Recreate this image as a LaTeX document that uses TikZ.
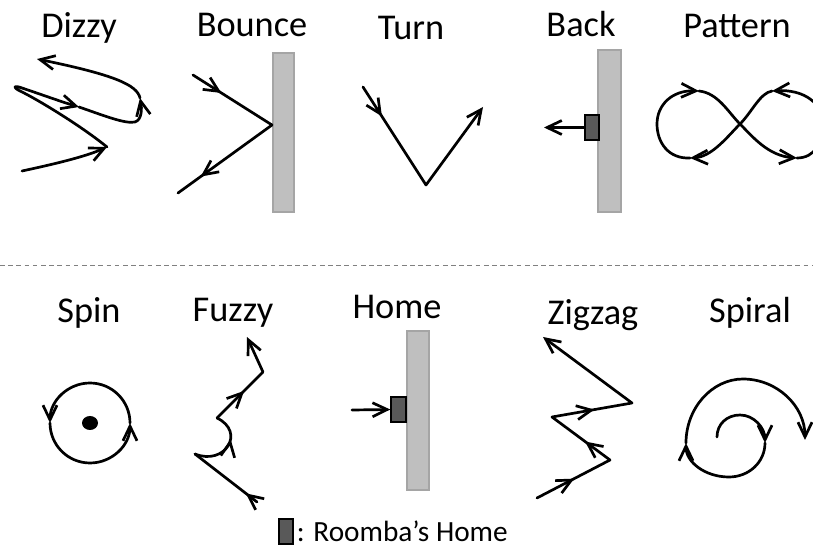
\documentclass[tikz,border=0pt]{standalone}
\usepackage{fontspec}
\setmainfont{Carlito}
\usetikzlibrary{positioning,arrows.meta,decorations.markings}
\definecolor{wallgray}{RGB}{191,191,191}
\definecolor{walledge}{RGB}{165,165,165}
\definecolor{homegray}{RGB}{89,89,89}
\tikzset{
  title/.style={anchor=base, font=\fontsize{31}{36}\selectfont},
  legend/.style={font=\fontsize{25}{30}\selectfont, inner sep=0pt},
  move/.style={line width=2.3pt, line cap=round, line join=round},
  wall/.style={fill=wallgray, draw=walledge, line width=1.2pt},
  homebox/.style={draw=black, fill=homegray, line width=1.5pt, minimum width=4.4mm,
                  minimum height=7.4mm, inner sep=0pt},
  mid/.style={postaction={decorate, decoration={markings,
              mark=at position #1 with {\arrow{>}}}}},
  divider/.style={gray, line width=0.8pt, dash pattern=on 4pt off 3pt}
}

\begin{document}
\begin{tikzpicture}[x=0.3mm, y=-0.3mm, >={Straight Barb[length=4.4mm,width=4.2mm]}]
    \path[fill=white] (0,0) rectangle (813,549);
    \useasboundingbox (0,0) rectangle (813,549);

    % top row
    \node[title] (dizzy) at (79,38) {Dizzy};
    \node[title] (bounce) at (252,37) {Bounce};
    \node[title] (turn) at (411,40) {Turn};
    \node[title] (back) at (581,37) {Back};
    \node[title] (pattern) at (737,38) {Pattern};

    % dizzy
    \coordinate (d0) at (22,171);
    \coordinate (d1) at (107,147);
    \coordinate (d2) at (79,107);
    \coordinate (d3) at (140,98);
    \coordinate (d4) at (37,59);
    \draw[move, ->] (d0) .. controls (50,165) and (85,157) .. (d1);
    \draw[move, ->] (d1) .. controls (80,125) and (35,98) .. (20,91)
        .. controls (12,87) and (14,85) .. (22,88)
        .. controls (40,94) and (62,102) .. (d2);
    \draw[move, ->] (d2) .. controls (105,116) and (125,124) .. (135,122)
        .. controls (142,120) and (142,108) .. (d3);
    \draw[move, ->] (d3) .. controls (137,85) and (115,75) .. (d4);

    % bounce
    \draw[wall] (273,53) rectangle (294,212);
    \coordinate (b0) at (193,75);
    \coordinate (b1) at (272,125);
    \coordinate (b2) at (178,193);
    \draw[move, mid=0.36] (b0) -- (b1);
    \draw[move, mid=0.76] (b1) -- (b2);

    % turn
    \coordinate (t0) at (363,87);
    \coordinate (t1) at (426,185);
    \coordinate (t2) at (483,107);
    \draw[move, mid=0.3] (t0) -- (t1);
    \draw[move, ->] (t1) -- (t2);

    % back
    \draw[wall] (598,50) rectangle (621,212);
    \node[homebox] (backhome) at (592,127.5) {};
    \coordinate (backend) at (544,127.5);
    \draw[move, ->] (backhome.west) -- (backend);

    % pattern
    \coordinate (pc) at (740,124);
    \coordinate (p1) at (699,91);
    \coordinate (p2) at (797,158);
    \coordinate (p3) at (772,91);
    \coordinate (p4) at (690,158);
    \draw[move, ->] (p1) .. controls (718,93) and (728,112) .. (pc)
        .. controls (752,136) and (768,156) .. (p2);
    \draw[move, ->] (p2) .. controls (815,158) and (823,142) .. (823,124)
        .. controls (823,104) and (805,89) .. (p3);
    \draw[move, ->] (p3) .. controls (760,93) and (752,112) .. (pc)
        .. controls (728,136) and (712,157) .. (p4);
    \draw[move, ->] (p4) .. controls (668,159) and (657,142) .. (657,124)
        .. controls (657,105) and (672,90) .. (p1);

    \coordinate (sepl) at (0,265);
    \coordinate (sepr) at (813,265);
    \draw[divider] (sepl) -- (sepr);

    % bottom row
    \node[title] (spin) at (89,323) {Spin};
    \node[title] (fuzzy) at (233,322) {Fuzzy};
    \node[title] (home) at (397,319) {Home};
    \node[title] (zigzag) at (593,325) {Zigzag};
    \node[title] (spiral) at (750,323) {Spiral};

    % spin
    \coordinate (spinc) at (90,423);
    \coordinate (spine) at (130,423);
    \coordinate (spinw) at (50,423);
    \draw[move, ->] (spine) arc[start angle=0, end angle=-180, radius=40];
    \draw[move, ->] (spinw) arc[start angle=180, end angle=0, radius=40];
    \fill (spinc) ellipse[x radius=8, y radius=7];

    % fuzzy
    \coordinate (f0) at (257,502);
    \coordinate (f1) at (195,454);
    \coordinate (f2) at (217,418);
    \coordinate (f3) at (263,372);
    \coordinate (f4) at (247,337);
    \draw[move, mid=0.18] (f0) -- (f1);
    \draw[move, mid=0.62] (f1) .. controls (225,466) and (246,432) .. (f2);
    \draw[move, mid=0.59] (f2) -- (f3);
    \draw[move, ->] (f3) -- (f4);

    % home
    \draw[wall] (407,331) rectangle (429,490);
    \node[homebox] (homebox) at (398.5,409.5) {};
    \coordinate (homestart) at (352,410);
    \draw[move, ->] (homestart) -- (homebox.west);

    % zigzag
    \coordinate (z0) at (537,498);
    \coordinate (z1) at (610,460);
    \coordinate (z2) at (552,417);
    \coordinate (z3) at (632,403);
    \coordinate (z4) at (543,337);
    \draw[move, mid=0.51] (z0) -- (z1);
    \draw[move, mid=0.43] (z1) -- (z2);
    \draw[move, mid=0.53] (z2) -- (z3);
    \draw[move, ->] (z3) -- (z4);

    % spiral
    \coordinate (s0) at (717,437);
    \coordinate (s1) at (740,415);
    \coordinate (s2) at (765,443);
    \coordinate (s3) at (729,477);
    \coordinate (s4) at (686,443);
    \coordinate (s5) at (743,379);
    \coordinate (s6) at (805,440);
    \draw[move, ->] (s0) .. controls (717,424) and (727,415) .. (s1)
        .. controls (754,415) and (765,428) .. (s2);
    \draw[move, ->] (s2) .. controls (765,462) and (749,477) .. (s3)
        .. controls (705,477) and (686,462) .. (s4);
    \draw[move, ->] (s4) .. controls (686,408) and (712,379) .. (s5)
        .. controls (777,379) and (805,406) .. (s6);

    % legend
    \node[homebox] (key) at (286,531.5) {};
    \node[legend, right=2pt of key] (keytext) {: Roomba’s Home};
  \end{tikzpicture}
\end{document}
